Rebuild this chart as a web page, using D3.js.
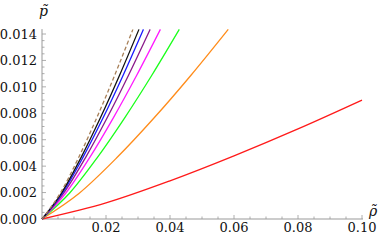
<!DOCTYPE html>
<html>
<head>
<meta charset="utf-8">
<script src="https://cdn.jsdelivr.net/npm/d3@7/dist/d3.min.js"></script>
<style>
  body { margin: 0; background: #fff; }
  svg text { font-family: "DejaVu Serif", serif; }
</style>
</head>
<body>
<div id="container"></div>
<script>
/* CONSTANTS AND GLOBALS */
const width = 382,
  height = 243;

/* DATA */
// shared pressure levels for the steep curves
const pLevels = [0, 0.00195, 0.00461, 0.00762, 0.01088, 0.01435];
// rho at each pressure level, per curve
const rhoBrown   = [0, 0.00568, 0.01136, 0.01704, 0.02272, 0.0284];
const rhoBlack   = [0, 0.00606, 0.01212, 0.01818, 0.02424, 0.0303];
const rhoBlue    = [0, 0.00634, 0.01268, 0.01902, 0.02536, 0.0317];
const rhoPurple  = [0, 0.00676, 0.01352, 0.02028, 0.02704, 0.0338];
const rhoMagenta = [0, 0.0074, 0.0148, 0.0222, 0.0296, 0.037];
const rhoGreen   = [0, 0.00858, 0.01716, 0.02574, 0.03432, 0.0429];
const rhoOrange  = [0, 0.01164, 0.02328, 0.03492, 0.04656, 0.0582];
// red curve
const rhoRed = [0, 0.02, 0.04, 0.06, 0.08, 0.1];
const pRed   = [0, 0.00122, 0.00289, 0.00478, 0.00682, 0.009];

const xTicks = [0.02, 0.04, 0.06, 0.08, 0.10];
const yTicks = [0, 0.002, 0.004, 0.006, 0.008, 0.010, 0.012, 0.014];

const series = [
  { name: "red",     rho: rhoRed,     p: pRed,    color: "#ff1a1a" },
  { name: "orange",  rho: rhoOrange,  p: pLevels, color: "#ff8c1a" },
  { name: "green",   rho: rhoGreen,   p: pLevels, color: "#1aff1a" },
  { name: "magenta", rho: rhoMagenta, p: pLevels, color: "#ff1aff" },
  { name: "purple",  rho: rhoPurple,  p: pLevels, color: "#8a1a8a" },
  { name: "blue",    rho: rhoBlue,    p: pLevels, color: "#1a1aff" },
  { name: "black",   rho: rhoBlack,   p: pLevels, color: "#111111" },
  { name: "brown",   rho: rhoBrown,   p: pLevels, color: "#a88058", dash: "4,2.5" }
];

const svg = d3.select("#container").append("svg")
  .attr("width", width)
  .attr("height", height);

/* SCALES */
const xScale = d3.scaleLinear().domain([0, 0.1]).range([42, 362]);
const yScale = d3.scaleLinear().domain([0, 0.014]).range([219, 34]);

const axisColor = "#999";

/* AXES */
svg.append("line")
  .attr("x1", xScale(0)).attr("x2", xScale(0.1003))
  .attr("y1", yScale(0)).attr("y2", yScale(0))
  .attr("stroke", axisColor).attr("stroke-width", 1);
svg.append("line")
  .attr("x1", xScale(0)).attr("x2", xScale(0))
  .attr("y1", yScale(0)).attr("y2", yScale(0.01437))
  .attr("stroke", axisColor).attr("stroke-width", 1);

// x minor + major ticks (pointing up)
const xMinor = d3.range(1, 21).map(i => i * 0.005);
svg.selectAll(".xtick")
  .data(xMinor)
  .join("line")
  .attr("class", "xtick")
  .attr("x1", d => xScale(d)).attr("x2", d => xScale(d))
  .attr("y1", yScale(0))
  .attr("y2", (d, i) => yScale(0) - ((i + 1) % 4 === 0 ? 4 : 2.5))
  .attr("stroke", axisColor).attr("stroke-width", 0.8);

// y minor + major ticks (pointing right)
const yMinor = d3.range(1, 29).map(i => i * 0.0005);
svg.selectAll(".ytick")
  .data(yMinor)
  .join("line")
  .attr("class", "ytick")
  .attr("y1", d => yScale(d)).attr("y2", d => yScale(d))
  .attr("x1", xScale(0))
  .attr("x2", (d, i) => xScale(0) + ((i + 1) % 4 === 0 ? 4 : 2.5))
  .attr("stroke", axisColor).attr("stroke-width", 0.8);

// tick labels
svg.selectAll(".xlabel")
  .data(xTicks)
  .join("text")
  .attr("class", "xlabel")
  .attr("x", d => xScale(d))
  .attr("y", 232)
  .attr("text-anchor", "middle")
  .attr("font-size", 13)
  .attr("fill", "#111")
  .text(d => d3.format(".2f")(d));

svg.selectAll(".ylabel")
  .data(yTicks)
  .join("text")
  .attr("class", "ylabel")
  .attr("x", 37)
  .attr("y", d => yScale(d))
  .attr("dy", "0.36em")
  .attr("text-anchor", "end")
  .attr("font-size", 13)
  .attr("fill", "#111")
  .text(d => d3.format(".3f")(d));

/* CURVES */
const line = d3.line()
  .x(d => xScale(d[0]))
  .y(d => yScale(d[1]))
  .curve(d3.curveMonotoneX);

svg.selectAll(".curve")
  .data(series)
  .join("path")
  .attr("class", "curve")
  .attr("d", s => line(s.rho.map((r, i) => [r, s.p[i]])))
  .attr("fill", "none")
  .attr("stroke", s => s.color)
  .attr("stroke-width", 1.3)
  .attr("stroke-dasharray", s => s.dash || null);

/* AXIS LABELS */
svg.append("text")
  .attr("x", 39).attr("y", 16)
  .attr("font-size", 14).attr("font-style", "italic")
  .attr("fill", "#111")
  .text("p\u0303");

svg.append("text")
  .attr("x", 369).attr("y", 216)
  .attr("font-size", 14).attr("font-style", "italic")
  .attr("fill", "#111")
  .text("\u03c1\u0303");
</script>
</body>
</html>
